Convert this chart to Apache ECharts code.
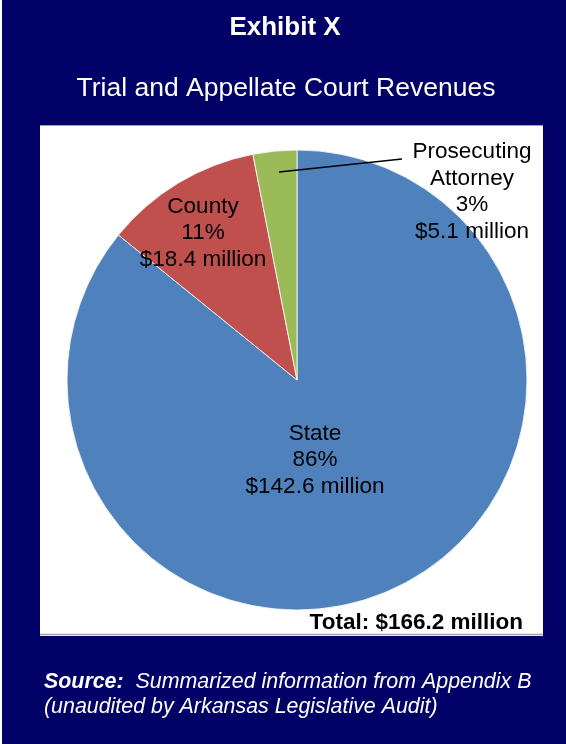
<!DOCTYPE html>
<html><head><meta charset="utf-8">
<script src="https://cdn.jsdelivr.net/npm/echarts@6/dist/echarts.min.js"></script>
<style>html,body{margin:0;padding:0;background:#000066}#c{width:566px;height:744px}</style>
</head><body><div id="c"></div>
<script>
// ---- data ----
const categories = ['State', 'County', 'Prosecuting Attorney'];
const revenues = [142.6, 18.4, 5.1]; // $ millions
const titleText = 'Exhibit X';
const subtitleText = 'Trial and Appellate Court Revenues';
const totalText = 'Total: $166.2 million';
const sourceLead = 'Source:';
const sourceLines = ['Summarized information from Appendix B', '(unaudited by Arkansas Legislative Audit)'];

// ---- styles / layout ----
const colors = ['#4F81BD', '#C0504D', '#9BBB59'];
const FONT = '"Liberation Sans", Arial, sans-serif';
const labelPos = [[315, 460], [203, 233], [472, 192]];
const leaderPts = [[279, 172], [402, 159]];

const chart = echarts.init(document.getElementById('c'), null, {renderer: 'canvas'});
chart.setOption({
  animation: false,
  backgroundColor: '#000066',
  graphic: [
    {type: 'rect', shape: {x: 0, y: 0, width: 2, height: 744}, style: {fill: '#ffffff'}},
    {type: 'rect', shape: {x: 40, y: 125, width: 503, height: 511}, style: {fill: '#ffffff'}},
    {type: 'line', shape: {x1: 40, y1: 125.5, x2: 543, y2: 125.5}, style: {stroke: '#a0a0a0', lineWidth: 1}},
    {type: 'line', shape: {x1: 40, y1: 634.5, x2: 543, y2: 634.5}, style: {stroke: '#a0a0a0', lineWidth: 1.5}},
    {type: 'text', x: 285, y: 28, style: {text: titleText, fill: '#ffffff', fontFamily: FONT, fontSize: 26, fontWeight: 'bold', align: 'center', verticalAlign: 'middle'}},
    {type: 'text', x: 286, y: 89, style: {text: subtitleText, fill: '#ffffff', fontFamily: FONT, fontSize: 26.5, align: 'center', verticalAlign: 'middle'}},
    {type: 'text', x: 523, y: 623, z: 10, style: {text: totalText, fill: '#000000', fontFamily: FONT, fontSize: 22.5, fontWeight: 'bold', align: 'right', verticalAlign: 'middle'}},
    {type: 'polyline', z: 100, shape: {points: leaderPts}, style: {stroke: '#000000', lineWidth: 1.5, fill: null}},
    {type: 'text', x: 44, y: 695, style: {
      text: '{b|' + sourceLead + '}{i|  ' + sourceLines[0] + '}\n{i|' + sourceLines[1] + '}',
      fill: '#ffffff', fontFamily: FONT, fontSize: 21.4, fontStyle: 'italic', align: 'left', verticalAlign: 'middle',
      rich: {
        b: {fill: '#ffffff', fontFamily: FONT, fontSize: 21.4, fontStyle: 'italic', fontWeight: 'bold', lineHeight: 25},
        i: {fill: '#ffffff', fontFamily: FONT, fontSize: 21.4, fontStyle: 'italic', lineHeight: 25}
      }
    }}
  ],
  series: [{
    type: 'pie',
    center: [297, 380],
    radius: 230,
    startAngle: 90,
    clockwise: true,
    avoidLabelOverlap: false,
    silent: true,
    emphasis: {disabled: true},
    itemStyle: {borderColor: '#ffffff', borderWidth: 0.8},
    label: {
      show: true,
      position: 'inside',
      color: '#000000',
      fontFamily: FONT,
      fontSize: 22.5,
      lineHeight: 26.5,
      align: 'center',
      formatter: p => p.name.replace(' ', '\n') + '\n' + Math.round(p.percent) + '%\n$' + p.value.toFixed(1) + ' million'
    },
    labelLine: {show: false},
    labelLayout: params => {
      const i = params.dataIndex;
      return {x: labelPos[i][0], y: labelPos[i][1], align: 'center', verticalAlign: 'middle'};
    },
    data: categories.map((c, i) => {
      const d = {name: c, value: revenues[i], itemStyle: {color: colors[i]}};
      if (i === 2) d.label = {position: 'outside'};
      return d;
    })
  }]
});
</script></body></html>
